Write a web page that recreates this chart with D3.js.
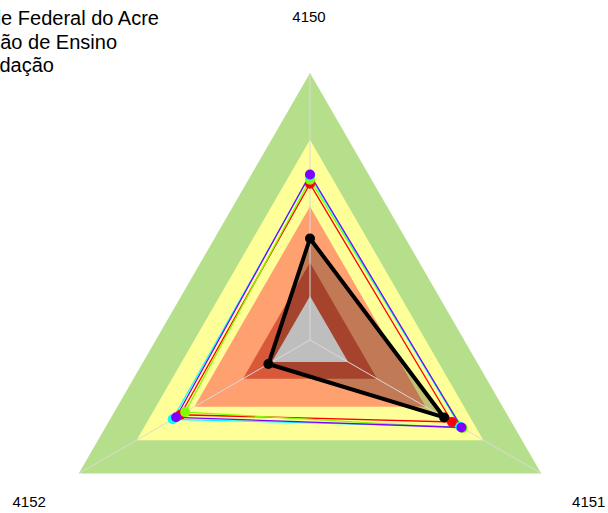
<!DOCTYPE html>
<html><head><meta charset="utf-8">
<script src="https://cdn.jsdelivr.net/npm/d3@7"></script>
<style>html,body{margin:0;padding:0;background:#fff;overflow:hidden}</style>
</head><body>
<svg id="chart" width="608" height="513"></svg>
<script>
// ---- data ----
const axes = ["4150", "4151", "4152"];
const titleLines = ["Universidade Federal do Acre", "Instituição de Ensino", "Fundação"];
// background bands (outer to inner), same value on every axis
const bandValues = [100, 75, 50, 29, 16.5];
const bandColors = ["#B6DF8B", "#FFFF99", "#FFA070", "#D9583A", "#BEBEBE"];
// series (order of drawing)
const seriesNames = ["s1", "s2", "s3", "s4"];
const seriesColors = ["#FF0000", "#80FF00", "#00FFFF", "#8000FF"];
const s1 = [58.5, 61.4, 56.0];
const s2 = [60.0, 66.0, 54.0];
const s3 = [61.5, 65.0, 59.4];
const s4 = [62.0, 65.5, 57.9];
const seriesValues = [s1, s2, s3, s4];
const mainValues = [38, 58, 18];

// ---- layout ----
const W = 608, H = 513, cx = 310, cy = 340, R = 267;
const svg = d3.select("#chart");
const r = d3.scaleLinear().domain([0, 100]).range([0, R]);
const ang = d3.scalePoint().domain(axes).range([0, 2 * Math.PI * (axes.length - 1) / axes.length]);
const g = svg.append("g").attr("transform", `translate(${cx},${cy})`);

const radial = d3.lineRadial()
  .angle((d, i) => ang(axes[i]))
  .radius(d => r(d))
  .curve(d3.curveLinearClosed);
const pt = (v, i) => {
  const a = ang(axes[i]);
  return [Math.sin(a) * r(v), -Math.cos(a) * r(v)];
};

// bands except the innermost
bandValues.slice(0, 4).forEach((v, k) => {
  g.append("path").attr("d", radial(axes.map(() => v)))
    .attr("fill", bandColors[k]).attr("stroke", "none");
});
// main series translucent fill
g.append("path").attr("d", radial(mainValues))
  .attr("fill", "rgba(0,0,0,0.24)").attr("stroke", "none");
// innermost band
g.append("path").attr("d", radial(axes.map(() => bandValues[4])))
  .attr("fill", bandColors[4]).attr("stroke", "none");

// axis lines
axes.forEach((a, i) => {
  const p = pt(100, i);
  g.append("line").attr("x1", 0).attr("y1", 0).attr("x2", p[0]).attr("y2", p[1])
    .attr("stroke", "#D9D9D9").attr("stroke-width", 1);
});

// colored series
seriesValues.forEach((vals, k) => {
  g.append("path").attr("d", radial(vals))
    .attr("fill", "none").attr("stroke", seriesColors[k]).attr("stroke-width", 1.3);
});
seriesValues.forEach((vals, k) => {
  vals.forEach((v, i) => {
    const p = pt(v, i);
    g.append("circle").attr("cx", p[0]).attr("cy", p[1]).attr("r", 5)
      .attr("fill", seriesColors[k]);
  });
});

// main series
g.append("path").attr("d", radial(mainValues))
  .attr("fill", "none").attr("stroke", "#000").attr("stroke-width", 4)
  .attr("stroke-linejoin", "round");
mainValues.forEach((v, i) => {
  const p = pt(v, i);
  g.append("circle").attr("cx", p[0]).attr("cy", p[1]).attr("r", 5).attr("fill", "#000");
});

// axis labels
axes.forEach((a, i) => {
  const p = pt(121, i);
  g.append("text").attr("x", p[0] - 1).attr("y", p[1]).attr("dy", "0.35em")
    .attr("text-anchor", "middle")
    .attr("font-family", "'Liberation Sans', Arial, sans-serif")
    .attr("font-size", 15).attr("fill", "#000").text(a);
});

// title (clipped at the left edge as in the original)
const titleEnds = [159, 117, 54];
titleLines.forEach((t, i) => {
  svg.append("text").attr("x", titleEnds[i]).attr("y", 25 + i * 23.5)
    .attr("text-anchor", "end")
    .attr("font-family", "'Liberation Sans', Arial, sans-serif")
    .attr("font-size", 20).attr("fill", "#000").text(t);
});
</script>
</body></html>
